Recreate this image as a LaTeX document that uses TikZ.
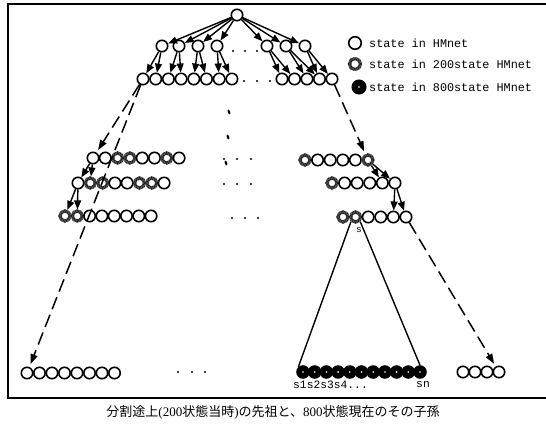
\documentclass[tikz,border=0pt]{standalone}
\usepackage{fontspec}
\setmainfont{Liberation Serif}
\setmonofont{Liberation Mono}
\newfontfamily\cjk{Noto Sans CJK JP}
\usetikzlibrary{arrows.meta,shapes.geometric}
\tikzset{
  st/.style={circle,draw=black,line width=1.6pt,fill=white,minimum size=11.4pt,inner sep=0pt},
  sg/.style={circle,draw=black!55,line width=3.2pt,fill=white,minimum size=10pt,inner sep=0pt,
    postaction={draw=black!90,line width=3.2pt,dash pattern=on 0.7pt off 0.8pt}},
  sb/.style={circle,draw=black,fill=black,line width=1pt,minimum size=12.5pt,inner sep=0pt,
    path picture={\fill[white] (path picture bounding box.center) circle (0.9pt);}},
  arr/.style={line width=1.4pt,-{Triangle[length=9pt,width=7pt]}},
  dsh/.style={line width=1.5pt,dash pattern=on 13pt off 6pt,shorten >=3pt,-{Triangle[length=10pt,width=7pt]}},
  dt/.style={circle,fill=black,inner sep=0pt,minimum size=2.3pt},
  vd/.style={ellipse,fill=black,inner sep=0pt,minimum width=2.4pt,minimum height=5pt,rotate=20},
  lg/.style={anchor=west,font=\ttfamily\fontsize{11.8}{12}\selectfont,inner sep=0pt},
  lb/.style={font=\ttfamily\fontsize{11.3}{11}\selectfont,inner sep=0pt},
}
\begin{document}
\begin{tikzpicture}[x=1pt,y=-1pt]
\useasboundingbox (0,0) rectangle (546,428);
% frame
\draw[line width=1.4pt] (546,4) -- (8,4) -- (8,398) -- (546,398);
% root and level 1
\node[st] (r) at (237,15) {};
\foreach \x [count=\i] in {162,179,198,217} \node[st] (a\i) at (\x,46) {};
\foreach \x [count=\i] in {267,286,305} \node[st] (b\i) at (\x,46) {};
\foreach \x [count=\i] in {233,245,257} \node[dt] (p\i) at (\x,51) {};
% level 2
\foreach \i in {1,...,8} \node[st] (c\i) at ({143+12.7*(\i-1)},79) {};
\foreach \i in {1,...,5} \node[st] (d\i) at ({282+12.5*(\i-1)},79) {};
\foreach \x [count=\i] in {244,257,270} \node[dt] (q\i) at (\x,81) {};
% arrows level 0 -> 1 -> 2
\foreach \i in {1,...,4} \draw[arr] (r) -- (a\i);
\foreach \i in {1,...,3} \draw[arr] (r) -- (b\i);
\draw[arr] (a1) -- (c1); \draw[arr] (a1) -- (c2);
\draw[arr] (a2) -- (c3); \draw[arr] (a2) -- (c4);
\draw[arr] (a3) -- (c5); \draw[arr] (a3) -- (c6);
\draw[arr] (a4) -- (c7); \draw[arr] (a4) -- (c8);
\draw[arr] (b1) -- (d1); \draw[arr] (b1) -- (d2);
\draw[arr] (b2) -- (d3); \draw[arr] (b2) -- (d4);
\draw[arr] (b3) -- (d4); \draw[arr] (b3) -- (d5);
% vertical ellipsis
\node[vd] (v1) at (229,112) {};
\node[vd] (v2) at (228,137) {};
\node[vd] (v3) at (226,163) {};
% left level 3 rows
\foreach \s [count=\i] in {st,st,sg,sg,st,st,sg,st} \node[\s] (e\i) at ({93+12.3*(\i-1)},158) {};
\foreach \s [count=\i] in {st,sg,sg,st,st,sg,sg,st} \node[\s] (f\i) at ({78+12.3*(\i-1)},183) {};
\foreach \s [count=\i] in {sg,sg,st,st,st,st,st,st} \node[\s] (h\i) at ({65+12.3*(\i-1)},216) {};
% middle dots
\foreach \x [count=\i] in {224,237,251} \node[dt] (m\i) at (\x,159) {};
\foreach \x [count=\i] in {224,237,251} \node[dt] (n\i) at (\x,184) {};
\foreach \x [count=\i] in {232,245,258} \node[dt] (o\i) at (\x,218) {};
% right level 3 rows
\foreach \s [count=\i] in {sg,st,st,st,st,sg} \node[\s] (ra\i) at ({305+12.6*(\i-1)},160) {};
\foreach \s [count=\i] in {sg,st,st,st,st,st} \node[\s] (rb\i) at ({332+12.6*(\i-1)},183) {};
\foreach \s [count=\i] in {sg,sg,st,st,st,st} \node[\s] (rc\i) at ({343+12.6*(\i-1)},217) {};
\node[font=\ttfamily\fontsize{9.5}{9}\selectfont,inner sep=0pt] (slab) at (359,230) {s};
% arrows level 3
\draw[arr] (e1) -- (f1); \draw[arr] (e1) -- (f2);
\draw[arr] (f1) -- (h1); \draw[arr] (f1) -- (h2);
\draw[arr] (ra6) -- (rb5); \draw[arr] (ra6) -- (rb6);
\draw[arr] (rb6) -- (rc5); \draw[arr] (rb6) -- (rc6);
% bottom rows
\foreach \i in {1,...,8} \node[st] (g\i) at ({27+12.5*(\i-1)},373) {};
\foreach \x [count=\i] in {178,192,205} \node[dt] (u\i) at (\x,372) {};
\foreach \i in {1,...,11} \node[sb] (k\i) at ({303+11.7*(\i-1)},372) {};
\foreach \i in {1,...,4} \node[st] (w\i) at ({463+12*(\i-1)},372) {};
\node[lb,anchor=west] (s1) at (293,385) {s1s2s3s4...};
\node[lb] (sn) at (423,385) {sn};
% triangle
\draw[line width=1.4pt] (rc2.south west) -- (k1.north west);
\draw[line width=1.4pt] (rc2.south east) -- (k11.north);
% dashed arrows
\draw[dsh] (c1) -- (e1);
\draw[dsh] (c1) -- (g1);
\draw[dsh] (d5) -- (ra6);
\draw[dsh] (rc6) -- (w4);
% legend
\node[st,minimum size=12.5pt] (l1) at (355,43) {};
\node[sg,minimum size=11pt] (l2) at (355,64) {};
\node[sb,minimum size=14pt] (l3) at (359,87) {};
\node[lg] (t1) at (369,43) {state in HMnet};
\node[lg] (t2) at (369,64) {state in 200state HMnet};
\node[lg] (t3) at (369,87) {state in 800state HMnet};
% caption
\node[inner sep=0pt] (cap) at (273,412) {\cjk\fontsize{13}{13}\selectfont 分割途上{\rmfamily(200}状態当時{\rmfamily)}の先祖と、{\rmfamily 800}状態現在のその子孫};
\end{tikzpicture}
\end{document}
